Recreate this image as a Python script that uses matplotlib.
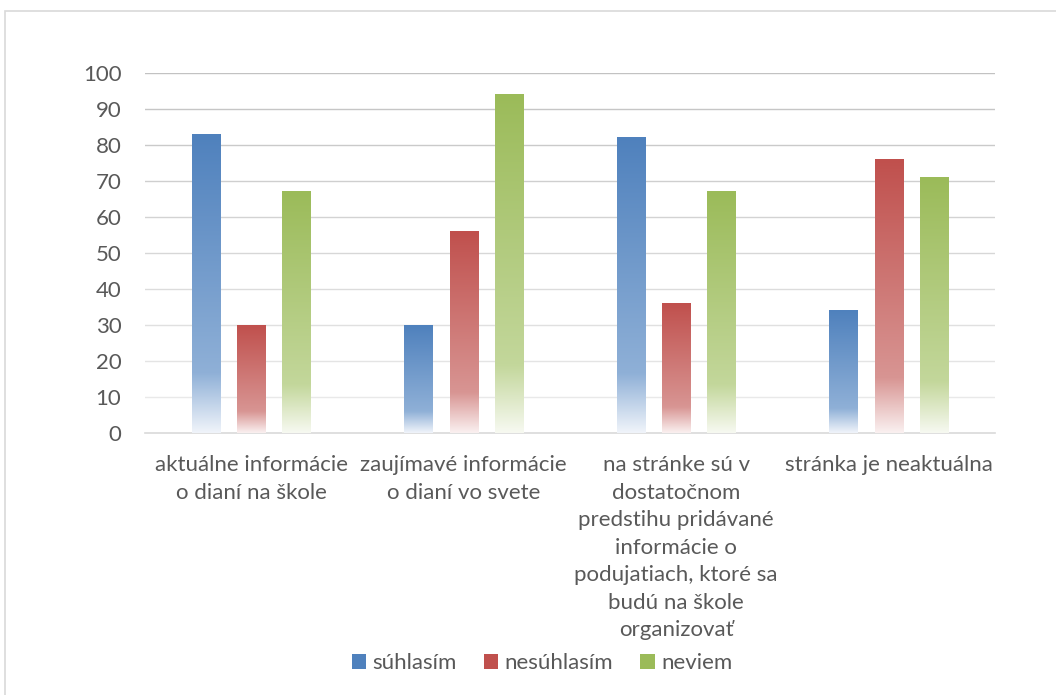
import numpy as np
import matplotlib
matplotlib.use("Agg")
import matplotlib.pyplot as plt
from matplotlib.colors import LinearSegmentedColormap, to_rgb
from matplotlib.patches import Patch, Rectangle

categories = [
    "aktuálne informácie\no dianí na škole",
    "zaujímavé informácie\no dianí vo svete",
    "na stránke sú v\ndostatočnom\npredstihu pridávané\ninformácie o\npodujatiach, ktoré sa\nbudú na škole\norganizovať",
    "stránka je neaktuálna",
]
series_names = ["súhlasím", "nesúhlasím", "neviem"]
suhlasim = [83, 30, 82, 34]
nesuhlasim = [30, 56, 36, 76]
neviem = [67, 94, 67, 71]
yticks = [0, 10, 20, 30, 40, 50, 60, 70, 80, 90, 100]

series = [suhlasim, nesuhlasim, neviem]
top_colors = ["#4F81BD", "#C0504D", "#9BBB59"]
mid_colors = ["#8FB0D7", "#D89593", "#C3D79B"]
bot_colors = ["#F0F4FA", "#FAF0F0", "#F7F9F1"]

plt.rcParams["font.family"] = ["Lato", "DejaVu Sans"]
txt = "#595959"
FS = 16

W, H = 1056, 695
fig = plt.figure(figsize=(W / 100, H / 100), dpi=100)
fig.patch.set_facecolor("white")
fig.add_artist(Rectangle((5 / W, -0.05), 1.2, 1 - 11 / H + 0.05, transform=fig.transFigure,
                         fill=False, edgecolor="#D9D9D9", linewidth=1.2))
ax = fig.add_axes([145 / W, 1 - 433 / H, 850 / W, 360 / H])

x = np.arange(len(categories))
width = 0.132
offset = 0.213

for j, vals in enumerate(series):
    cmap = LinearSegmentedColormap.from_list(
        "g%d" % j,
        [(0.0, to_rgb(bot_colors[j])), (0.2, to_rgb(mid_colors[j])), (1.0, to_rgb(top_colors[j]))])
    grad = np.linspace(0, 1, 256).reshape(-1, 1)
    bars = ax.bar(x + (j - 1) * offset, vals, width, color="none", zorder=3)
    for b in bars:
        x0 = b.get_x()
        ax.imshow(grad, cmap=cmap, origin="lower", aspect="auto",
                  extent=(x0, x0 + b.get_width(), 0, b.get_height()), zorder=3,
                  interpolation="bicubic")
ax.set_xlim(-0.5, len(categories) - 0.5)
ax.set_ylim(0, 100)

# gridlines (lighter toward the bottom, as in the reference)
for t in yticks[1:]:
    f = t / 100.0
    g = 0.93 - 0.17 * f
    ax.axhline(t, color=(g, g, g), linewidth=1.0, zorder=0)

ax.set_yticks(yticks)
ax.set_yticklabels([str(t) for t in yticks])
ax.set_xticks(x)
ax.set_xticklabels(categories, linespacing=1.47, va="top")
ax.tick_params(axis="both", length=0, colors=txt, labelsize=FS)
ax.tick_params(axis="x", pad=16)
ax.tick_params(axis="y", pad=17)
for s in ["top", "right", "left"]:
    ax.spines[s].set_visible(False)
ax.spines["bottom"].set_color("#D9D9D9")
ax.spines["bottom"].set_linewidth(1.2)

handles = [Patch(facecolor=top_colors[j], edgecolor="none") for j in range(3)]
leg = fig.legend(handles, series_names, loc="center", bbox_to_anchor=(542 / W, 1 - 663 / H),
                 ncol=3, frameon=False, fontsize=FS, handlelength=0.65, handleheight=0.65,
                 handletextpad=0.3, columnspacing=1.2)
for t in leg.get_texts():
    t.set_color(txt)

fig.savefig("out.png", dpi=100)
